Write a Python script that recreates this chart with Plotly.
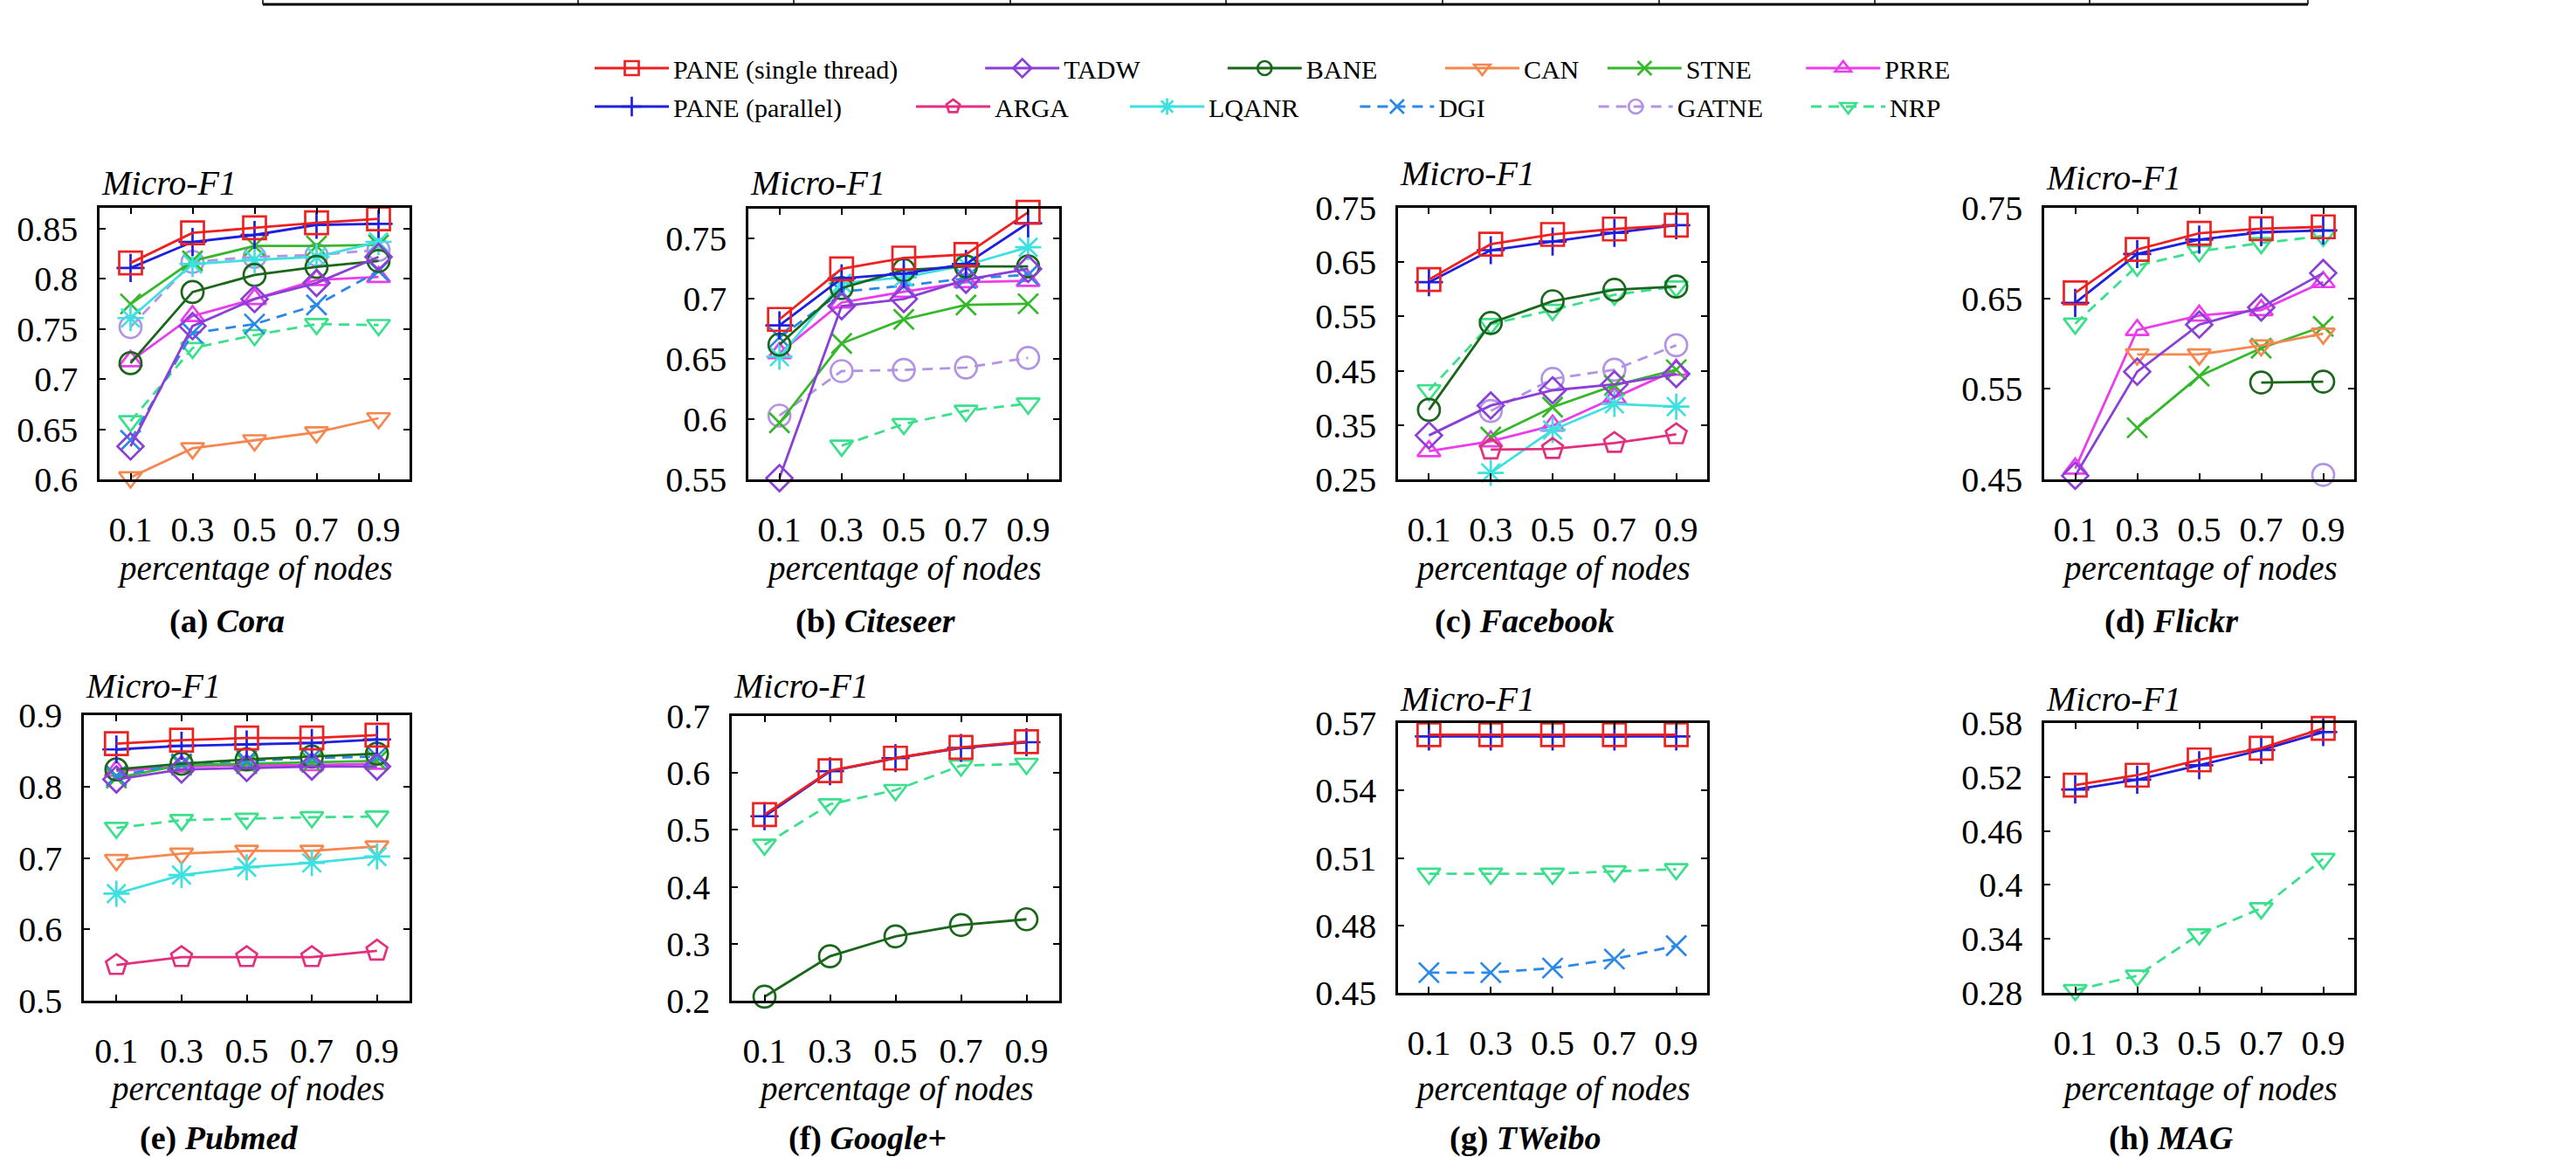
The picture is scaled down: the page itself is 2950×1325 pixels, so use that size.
import plotly.graph_objects as go

W, H = 2950, 1325
FONT = "Liberation Serif"

X = [0.1, 0.3, 0.5, 0.7, 0.9]
X_TICKTEXT = ["0.1", "0.3", "0.5", "0.7", "0.9"]

# ---------------- data (Micro-F1 per percentage of labelled nodes) ----------------
cora = {
    "PANE (single thread)": [0.816, 0.846, 0.851, 0.856, 0.860],
    "PANE (parallel)":      [0.811, 0.837, 0.844, 0.854, 0.855],
    "TADW":                 [0.633, 0.753, 0.780, 0.796, 0.822],
    "BANE":                 [0.716, 0.787, 0.804, 0.812, 0.818],
    "LQANR":                [0.761, 0.815, 0.819, 0.822, 0.837],
    "CAN":                  [0.602, 0.631, 0.639, 0.647, 0.661],
    "DGI":                  [0.639, 0.746, 0.755, 0.774, 0.808],
    "STNE":                 [0.775, 0.818, 0.833, 0.833, 0.834],
    "GATNE":                [0.752, 0.817, 0.822, 0.824, 0.829],
    "PRRE":                 [0.718, 0.763, 0.780, 0.799, 0.802],
    "NRP":                  [0.658, 0.731, 0.744, 0.755, 0.754],
}
citeseer = {
    "PANE (single thread)": [0.683, 0.725, 0.734, 0.737, 0.772],
    "PANE (parallel)":      [0.678, 0.717, 0.721, 0.729, 0.763],
    "TADW":                 [0.551, 0.694, 0.700, 0.716, 0.725],
    "BANE":                 [0.662, 0.709, 0.724, 0.727, 0.727],
    "LQANR":                [0.652, 0.713, 0.718, 0.728, 0.743],
    "DGI":                  [0.668, 0.706, 0.711, 0.717, 0.720],
    "STNE":                 [0.597, 0.663, 0.683, 0.695, 0.696],
    "GATNE":                [0.603, 0.640, 0.641, 0.643, 0.651],
    "PRRE":                 [0.655, 0.697, 0.706, 0.714, 0.715],
    "NRP":                  [None, 0.578, 0.596, 0.607, 0.613],
}
facebook = {
    "PANE (single thread)": [0.618, 0.683, 0.701, 0.711, 0.718],
    "PANE (parallel)":      [0.613, 0.672, 0.688, 0.704, 0.718],
    "TADW":                 [0.331, 0.386, 0.414, 0.425, 0.444],
    "ARGA":                 [None, 0.305, 0.306, 0.317, 0.333],
    "BANE":                 [0.378, 0.538, 0.578, 0.599, 0.605],
    "LQANR":                [None, 0.262, 0.341, 0.389, 0.384],
    "STNE":                 [None, 0.328, 0.383, 0.423, 0.452],
    "GATNE":                [None, 0.376, 0.435, 0.452, 0.497],
    "PRRE":                 [0.302, 0.320, 0.349, 0.400, 0.452],
    "NRP":                  [0.414, 0.536, 0.562, 0.590, 0.605],
}
flickr = {
    "PANE (single thread)": [0.656, 0.704, 0.722, 0.727, 0.729],
    "PANE (parallel)":      [0.645, 0.699, 0.715, 0.723, 0.725],
    "TADW":                 [0.454, 0.569, 0.621, 0.640, 0.678],
    "BANE":                 [None, None, None, 0.557, 0.558],
    "CAN":                  [None, 0.588, 0.588, 0.598, 0.611],
    "STNE":                 [None, 0.507, 0.564, 0.595, 0.619],
    "GATNE":                [None, None, None, None, 0.455],
    "PRRE":                 [0.462, 0.615, 0.631, 0.637, 0.668],
    "NRP":                  [0.622, 0.686, 0.702, 0.711, 0.719],
}
pubmed = {
    "PANE (single thread)": [0.860, 0.865, 0.868, 0.868, 0.872],
    "PANE (parallel)":      [0.852, 0.857, 0.859, 0.861, 0.866],
    "TADW":                 [0.810, 0.824, 0.826, 0.828, 0.828],
    "ARGA":                 [0.550, 0.561, 0.561, 0.561, 0.570],
    "BANE":                 [0.824, 0.832, 0.838, 0.842, 0.846],
    "LQANR":                [0.650, 0.676, 0.687, 0.693, 0.702],
    "CAN":                  [0.697, 0.706, 0.710, 0.710, 0.716],
    "DGI":                  [0.815, 0.832, 0.836, 0.840, 0.842],
    "STNE":                 [0.812, 0.830, 0.832, 0.834, 0.836],
    "PRRE":                 [0.822, 0.828, 0.830, 0.830, 0.832],
    "NRP":                  [0.742, 0.753, 0.755, 0.757, 0.758],
}
googleplus = {
    "PANE (single thread)": [0.527, 0.604, 0.626, 0.645, 0.655],
    "PANE (parallel)":      [0.524, 0.603, 0.626, 0.644, 0.654],
    "BANE":                 [0.207, 0.278, 0.313, 0.333, 0.343],
    "NRP":                  [0.474, 0.545, 0.570, 0.613, 0.616],
}
tweibo = {
    "PANE (single thread)": [0.5648, 0.5648, 0.5648, 0.5648, 0.5648],
    "PANE (parallel)":      [0.5640, 0.5640, 0.5640, 0.5640, 0.5640],
    "DGI":                  [0.459, 0.459, 0.461, 0.465, 0.471],
    "NRP":                  [0.503, 0.503, 0.503, 0.504, 0.505],
}
mag = {
    "PANE (single thread)": [0.511, 0.522, 0.539, 0.552, 0.574],
    "PANE (parallel)":      [0.506, 0.517, 0.533, 0.550, 0.570],
    "NRP":                  [0.283, 0.299, 0.345, 0.374, 0.429],
}

# panel captions and y-axis ticks
PANEL_LETTERS = ["a", "b", "c", "d", "e", "f", "g", "h"]
PANEL_NAMES = ["Cora", "Citeseer", "Facebook", "Flickr", "Pubmed", "Google+", "TWeibo", "MAG"]
PANEL_DATA = [cora, citeseer, facebook, flickr, pubmed, googleplus, tweibo, mag]
Y_RANGES = [(0.6, 0.871), (0.55, 0.775), (0.25, 0.75), (0.45, 0.75),
            (0.5, 0.9), (0.2, 0.7), (0.45, 0.57), (0.28, 0.58)]
Y_TICKTEXT = [
    ["0.6", "0.65", "0.7", "0.75", "0.8", "0.85"],
    ["0.55", "0.6", "0.65", "0.7", "0.75"],
    ["0.25", "0.35", "0.45", "0.55", "0.65", "0.75"],
    ["0.45", "0.55", "0.65", "0.75"],
    ["0.5", "0.6", "0.7", "0.8", "0.9"],
    ["0.2", "0.3", "0.4", "0.5", "0.6", "0.7"],
    ["0.45", "0.48", "0.51", "0.54", "0.57"],
    ["0.28", "0.34", "0.4", "0.46", "0.52", "0.58"],
]

# ---------------- styles / layout ----------------
STYLE = {
    "PANE (single thread)": dict(color="#ee2020", symbol="square-open", dash="solid", size=26),
    "PANE (parallel)":      dict(color="#1f1fe0", symbol="cross-thin-open", dash="solid", size=23),
    "TADW":                 dict(color="#8a3fd6", symbol="diamond-open", dash="solid", size=23),
    "ARGA":                 dict(color="#e22f7e", symbol="pentagon-open", dash="solid", size=25),
    "BANE":                 dict(color="#1a661a", symbol="circle-open", dash="solid", size=25),
    "LQANR":                dict(color="#3fe0e0", symbol="asterisk-open", dash="solid", size=25),
    "CAN":                  dict(color="#f5874f", symbol="triangle-down-open", dash="solid", size=23),
    "DGI":                  dict(color="#2b88e8", symbol="x-thin-open", dash="12px,8px", size=23),
    "STNE":                 dict(color="#35b82a", symbol="x-thin-open", dash="solid", size=23),
    "GATNE":                dict(color="#b393e6", symbol="circle-open", dash="12px,8px", size=25),
    "PRRE":                 dict(color="#ec3cec", symbol="triangle-up-open", dash="solid", size=23),
    "NRP":                  dict(color="#3ce08c", symbol="triangle-down-open", dash="12px,8px", size=23),
}
LEGEND_ROW1 = ["PANE (single thread)", "TADW", "BANE", "CAN", "STNE", "PRRE"]
LEGEND_ROW2 = ["PANE (parallel)", "ARGA", "LQANR", "DGI", "GATNE", "NRP"]
LEGEND_PAD = {"PANE (single thread)": 12, "TADW": 12, "BANE": 9, "CAN": 3, "STNE": 7, "PRRE": 0,
              "PANE (parallel)": 10, "ARGA": 8, "LQANR": 8, "DGI": 16, "GATNE": 6, "NRP": 0}
DRAW_ORDER = ["NRP", "PRRE", "GATNE", "STNE", "DGI", "CAN", "LQANR", "BANE", "ARGA", "TADW",
              "PANE (parallel)", "PANE (single thread)"]

# plot boxes in pixels: x0, x1, y0(top), y1(bottom)
BOXES = [(114, 469, 238, 549), (857, 1213, 239, 549), (1601, 1955, 238, 549), (2341, 2696, 238, 549),
         (96, 469, 819, 1146), (838, 1213, 820, 1146), (1601, 1955, 828, 1137), (2341, 2696, 828, 1137)]
MICRO_Y = [210, 210, 198, 203, 785, 785, 801, 801]
XLABEL_Y = [651, 651, 651, 651, 1247, 1247, 1247, 1247]
CAPTION_Y = [712, 712, 712, 712, 1303, 1303, 1303, 1303]

fig = go.Figure()
shown = set()
for i, data in enumerate(PANEL_DATA):
    ax = "" if i == 0 else str(i + 1)
    for name in DRAW_ORDER:
        if name not in data:
            continue
        st = STYLE[name]
        first = name not in shown
        if first:
            shown.add(name)
        in_row1 = name in LEGEND_ROW1
        rank = (LEGEND_ROW1.index(name) if in_row1 else LEGEND_ROW2.index(name)) + 1
        fig.add_trace(go.Scatter(
            x=X, y=data[name], xaxis="x" + ax, yaxis="y" + ax,
            mode="lines+markers",
            name=name + "\u00a0" * LEGEND_PAD[name],
            legendgroup=name, showlegend=first,
            legend="legend" if in_row1 else "legend2",
            legendrank=rank,
            line=dict(color=st["color"], width=2.8, dash=st["dash"]),
            marker=dict(symbol=st["symbol"], size=st["size"], color=st["color"],
                        line=dict(color=st["color"], width=2.7)),
            cliponaxis=False, connectgaps=False,
        ))

layout = dict(
    width=W, height=H, margin=dict(l=0, r=0, t=0, b=0, autoexpand=False),
    paper_bgcolor="white", plot_bgcolor="white",
    font=dict(family=FONT, color="black", size=40),
    showlegend=True,
)
axis_common = dict(showline=True, linecolor="black", linewidth=2.5, mirror="allticks",
                   ticks="inside", ticklen=7, tickwidth=1.8, tickcolor="black",
                   showgrid=False, zeroline=False, fixedrange=True, automargin=False,
                   tickfont=dict(family=FONT, size=40, color="black"))
annotations = []
for i, (x0, x1, y0, y1) in enumerate(BOXES):
    ax = "" if i == 0 else str(i + 1)
    layout["xaxis" + ax] = dict(axis_common, domain=[x0 / W, x1 / W], range=[0, 1],
                                tickvals=X, ticktext=X_TICKTEXT, anchor="y" + ax,
                                ticklabelstandoff=20)
    yt = [float(t) for t in Y_TICKTEXT[i]]
    layout["yaxis" + ax] = dict(axis_common, domain=[1 - y1 / H, 1 - y0 / H], range=list(Y_RANGES[i]),
                                tickvals=yt, ticktext=Y_TICKTEXT[i], anchor="x" + ax,
                                ticklabelstandoff=14)
    annotations.append(dict(text="<i>Micro-F1</i>", xref="paper", yref="paper",
                            x=x0 / W, y=1 - MICRO_Y[i] / H, xanchor="left", yanchor="middle",
                            showarrow=False, font=dict(family=FONT, size=40, color="black")))
    annotations.append(dict(text="<i>percentage of nodes</i>", xref="paper", yref="paper",
                            x=(x0 + x1) / 2 / W, y=1 - XLABEL_Y[i] / H, xanchor="center", yanchor="middle",
                            showarrow=False, font=dict(family=FONT, size=39, color="black")))
    annotations.append(dict(text="<b>(%s) <i>%s</i></b>" % (PANEL_LETTERS[i], PANEL_NAMES[i]),
                            xref="paper", yref="paper",
                            x=((x0 + x1) / 2 - 32) / W, y=1 - CAPTION_Y[i] / H,
                            xanchor="center", yanchor="middle",
                            showarrow=False, font=dict(family=FONT, size=38, color="black")))
layout["annotations"] = annotations

legend_common = dict(orientation="h", xanchor="left", yanchor="middle", itemwidth=85,
                     bgcolor="rgba(0,0,0,0)", font=dict(family=FONT, size=30, color="black"),
                     itemclick=False, itemdoubleclick=False, traceorder="normal")
layout["legend"] = dict(legend_common, x=676 / W, y=1 - 78 / H)
layout["legend2"] = dict(legend_common, x=676 / W, y=1 - 122 / H)

# fragment of the table border at the very top of the page
shapes = [dict(type="line", xref="paper", yref="paper", x0=301 / W, x1=2643 / W,
               y0=1 - 5 / H, y1=1 - 5 / H, line=dict(color="black", width=3))]
for xv in [301, 662, 909, 1157, 1404, 1652, 1900, 2147, 2393, 2643]:
    shapes.append(dict(type="line", xref="paper", yref="paper", x0=xv / W, x1=xv / W,
                       y0=1 - 5 / H, y1=1.0, line=dict(color="black", width=1.5)))
layout["shapes"] = shapes

fig.update_layout(**layout)
fig.write_html("out.html", config={"displayModeBar": False},
               post_script="document.body.style.margin='0';")
